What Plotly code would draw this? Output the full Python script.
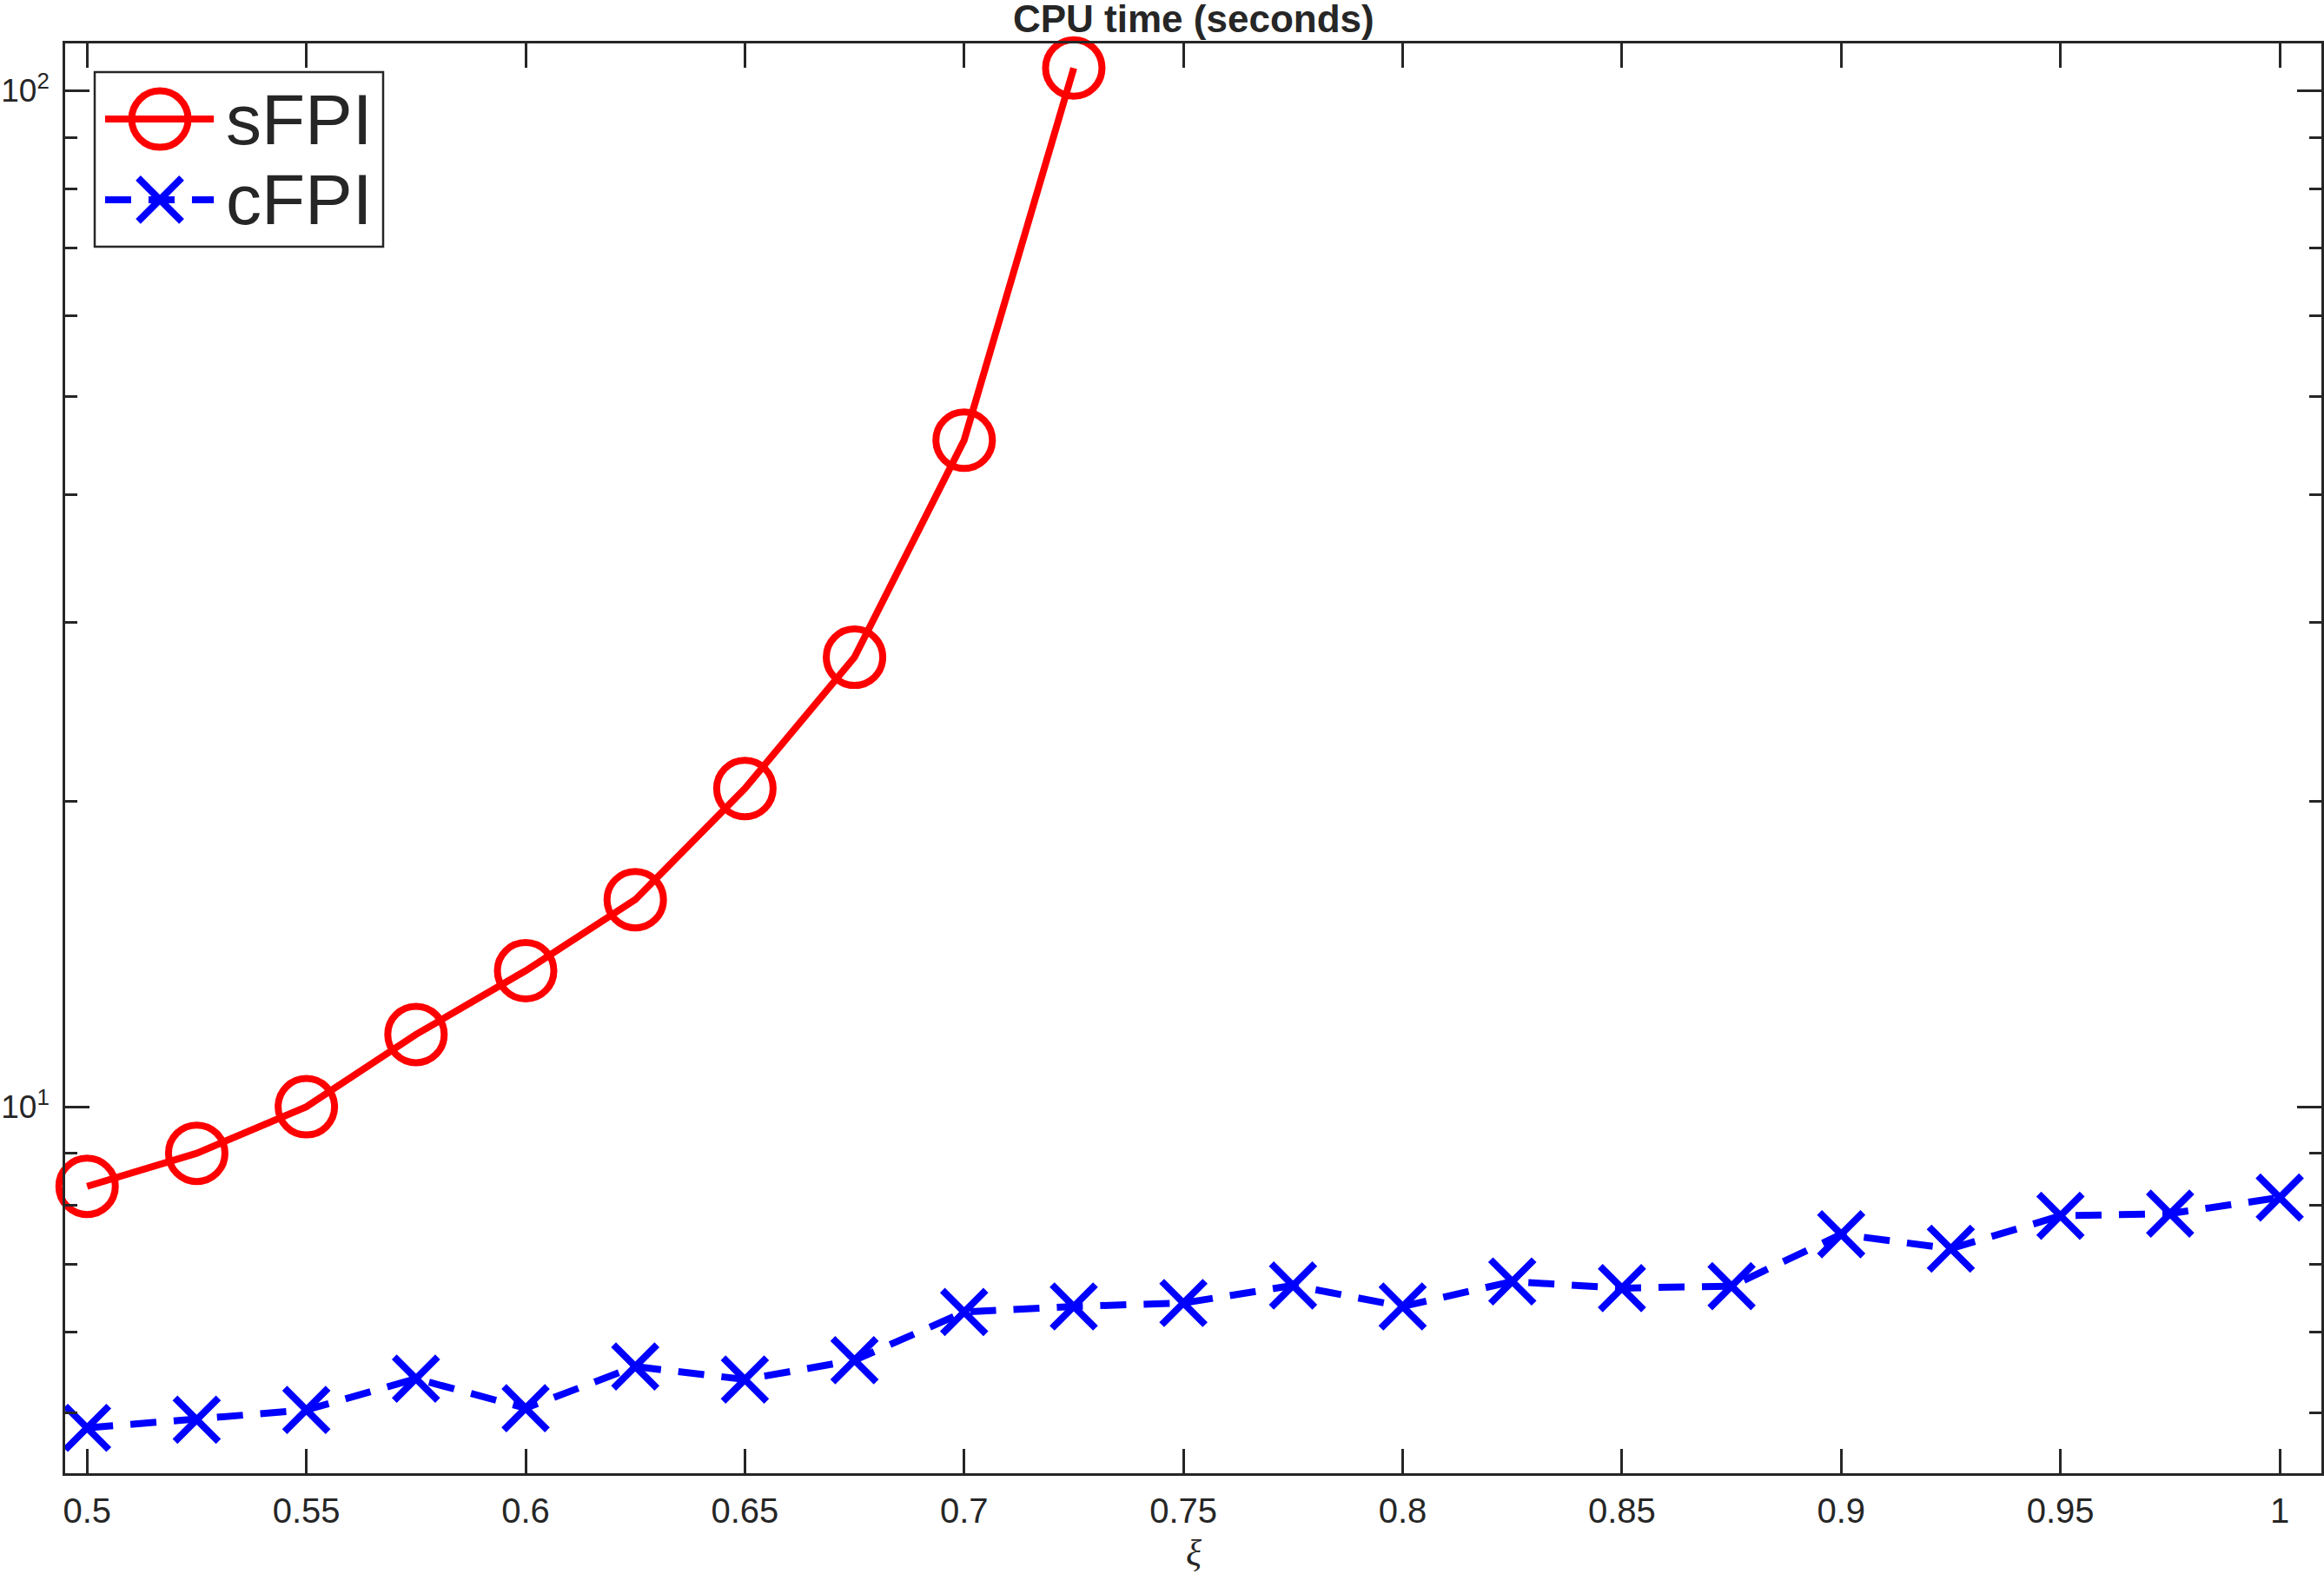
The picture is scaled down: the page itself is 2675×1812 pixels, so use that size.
import plotly.graph_objects as go

# ---------------- data ----------------
xi_s = [0.5, 0.525, 0.55, 0.575, 0.6, 0.625, 0.65, 0.675, 0.7, 0.725]
cpu_sfpi = [8.35, 9.0, 10.0, 11.78, 13.61, 15.99, 20.57, 27.7, 45.3, 105.3]

xi_c = [0.5, 0.525, 0.55, 0.575, 0.6, 0.625, 0.65, 0.675, 0.7, 0.725, 0.75,
        0.775, 0.8, 0.825, 0.85, 0.875, 0.9, 0.925, 0.95, 0.975, 1.0]
cpu_cfpi = [4.83, 4.92, 5.03, 5.40, 5.05, 5.55, 5.39, 5.63, 6.28, 6.36, 6.41,
            6.67, 6.36, 6.73, 6.63, 6.66, 7.49, 7.25, 7.81, 7.85, 8.14]

x_tick_vals = [0.5, 0.55, 0.6, 0.65, 0.7, 0.75, 0.8, 0.85, 0.9, 0.95, 1.0]
x_tick_text = ["0.5", "0.55", "0.6", "0.65", "0.7", "0.75", "0.8", "0.85", "0.9", "0.95", "1"]
y_tick_vals = [10, 100]
y_tick_text = ["10<sup>1</sup>", "10<sup>2</sup>"]
y_minor_vals = [5, 6, 7, 8, 9, 20, 30, 40, 50, 60, 70, 80, 90]

series_names = ["sFPI", "cFPI"]
title_text = "CPU time (seconds)"
xlabel_text = "ξ"

# ---------------- style ----------------
AX = "#262626"
RED = "#ff0000"
BLUE = "#0000ff"
LW = 8
DASH = "30px,20px"
FONT = "Liberation Sans"

W, H = 2675, 1812
ML, MR, MT, MB = 75, 3, 50, 116

circle_marker = dict(symbol="circle-open", size=65, color=RED, line=dict(width=LW, color=RED))
x_marker = dict(symbol="x-thin-open", size=50, color=BLUE, line=dict(width=LW, color=BLUE))

fig = go.Figure()

fig.add_trace(go.Scatter(
    x=xi_s, y=cpu_sfpi, mode="lines+markers", name=series_names[0],
    line=dict(color=RED, width=LW), marker=circle_marker, showlegend=False,
    cliponaxis=False,
))
fig.add_trace(go.Scatter(
    x=xi_c, y=cpu_cfpi, mode="lines+markers", name=series_names[1],
    line=dict(color=BLUE, width=LW, dash=DASH), marker=x_marker, showlegend=False,
    cliponaxis=False,
))

# ---------------- custom legend (own small axes) ----------------
pw = W - ML - MR
ph = H - MT - MB
box_x0, box_x1, box_y0, box_y1 = 109, 441, 83, 284
dx0 = (box_x0 - ML) / pw
dx1 = (box_x1 - ML) / pw
dy0 = (H - MB - box_y1) / ph
dy1 = (H - MB - box_y0) / ph

leg_rows = [0.731, 0.269]
seg = [0.036, 0.413]
mk = 0.226
styles = [
    (dict(color=RED, width=LW), circle_marker),
    (dict(color=BLUE, width=LW, dash=DASH), x_marker),
]
for (ln, mkr), yy, name in zip(styles, leg_rows, series_names):
    fig.add_trace(go.Scatter(x=seg, y=[yy, yy], mode="lines", line=ln,
                             xaxis="x2", yaxis="y2", showlegend=False, hoverinfo="skip"))
    fig.add_trace(go.Scatter(x=[mk], y=[yy], mode="markers", marker=mkr,
                             xaxis="x2", yaxis="y2", showlegend=False, hoverinfo="skip"))
    fig.add_annotation(x=0.449, y=yy, xref="x2", yref="y2", text=name, showarrow=False,
                       xanchor="left", yanchor="middle", font=dict(family=FONT, size=82, color=AX))

fig.add_shape(type="rect", xref="x2 domain", yref="y2 domain", x0=0, x1=1, y0=0, y1=1,
              line=dict(color=AX, width=2.5), fillcolor="rgba(0,0,0,0)", layer="above")

axis_common = dict(
    showline=True, linecolor=AX, linewidth=2.5, mirror="ticks",
    ticks="inside", ticklen=28, tickwidth=2.5, tickcolor=AX,
    showgrid=False, zeroline=False, automargin=False,
)

fig.update_layout(
    template="none",
    width=W, height=H,
    margin=dict(l=ML, r=MR, t=MT, b=MB, pad=0),
    paper_bgcolor="white", plot_bgcolor="white",
    xaxis=dict(range=[0.495, 1.0095], tickmode="array", tickvals=x_tick_vals,
               ticktext=x_tick_text, ticklabelstandoff=6,
               tickfont=dict(family=FONT, size=40, color=AX), **axis_common),
    yaxis=dict(type="log", range=[0.6393, 2.0466], tickmode="array", tickvals=y_tick_vals,
               ticktext=y_tick_text, ticklabelstandoff=8,
               tickfont=dict(family=FONT, size=37, color=AX),
               minor=dict(tickmode="array", tickvals=y_minor_vals, ticks="inside",
                          ticklen=14, tickwidth=2.5, tickcolor=AX, showgrid=False),
               **axis_common),
    xaxis2=dict(domain=[dx0, dx1], range=[0, 1], visible=False, fixedrange=True, automargin=False),
    yaxis2=dict(domain=[dy0, dy1], range=[0, 1], visible=False, fixedrange=True, automargin=False),
    showlegend=False,
)

fig.add_annotation(x=0.5, y=1, xref="paper", yref="paper", text="<b>" + title_text + "</b>",
                   showarrow=False, xanchor="center", yanchor="bottom", yshift=2,
                   font=dict(family=FONT, size=44, color=AX))
fig.add_annotation(x=0.5, y=0, xref="paper", yref="paper", text=xlabel_text,
                   showarrow=False, xanchor="center", yanchor="middle", yshift=-92,
                   font=dict(family="Liberation Serif", size=42, color=AX, style="italic"))

fig.write_html("out.html")
